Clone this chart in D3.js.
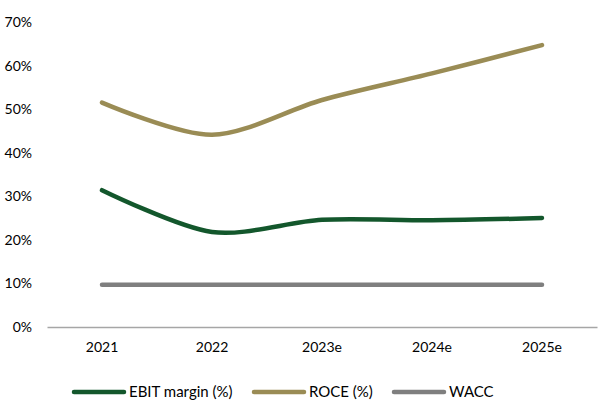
<!DOCTYPE html>
<html><head><meta charset="utf-8">
<script src="https://cdn.jsdelivr.net/npm/d3@7"></script>
<style>body{margin:0;background:#fff}svg{font-family:Lato,"Open Sans",sans-serif}</style>
</head><body><svg id="c" width="603" height="403"></svg>
<script>
const categories = ["2021","2022","2023e","2024e","2025e"];
const ebit = [31.4, 21.8, 24.6, 24.5, 25.0];
const roce = [51.5, 44.1, 52.1, 58.2, 64.7];
const wacc = [9.7, 9.7, 9.7, 9.7, 9.7];
const yTicks = [0,10,20,30,40,50,60,70];
const seriesNames = ["EBIT margin (%)","ROCE (%)","WACC"];
const colors = ["#13572c","#9a8c55","#7f7f7f"];

const svg = d3.select("#c");
const m = {l:47, r:6, t:22, b:76};
const W = 603, H = 403;
const x = d3.scaleBand().domain(categories).range([m.l, W-m.r]);
const y = d3.scaleLinear().domain([0,70]).range([H-m.b, m.t]);

svg.append("g").attr("transform",`translate(${m.l},0)`)
  .call(d3.axisLeft(y).tickValues(yTicks).tickFormat(d=>d+"%").tickSize(0).tickPadding(15))
  .call(g=>g.select(".domain").remove())
  .selectAll("text").attr("font-size",14).attr("fill","#000").attr("font-family","Lato");

svg.append("g").attr("transform",`translate(0,${y(0)})`)
  .call(d3.axisBottom(x).tickSize(0).tickPadding(15))
  .call(g=>g.select(".domain").attr("stroke","#a6a6a6").attr("stroke-width",1.3))
  .selectAll("text").attr("font-size",14).attr("fill","#000").attr("font-family","Lato");

const line = d3.line().x((d,i)=>x(categories[i])+x.bandwidth()/2).y(d=>y(d)).curve(d3.curveCardinal.tension(0.1));
const data = [ebit, roce, wacc];
[2,0,1].forEach(k=>{
  svg.append("path").datum(data[k]).attr("d",line).attr("fill","none")
    .attr("stroke",colors[k]).attr("stroke-width",4.5).attr("stroke-linecap","round");
});

const legX = [72, 252, 392];
const lg = svg.append("g");
seriesNames.forEach((n,i)=>{
  lg.append("line").attr("x1",legX[i]+2).attr("x2",legX[i]+52).attr("y1",392).attr("y2",392)
    .attr("stroke",colors[i]).attr("stroke-width",4.5).attr("stroke-linecap","round");
  lg.append("text").attr("x",legX[i]+57).attr("y",392).attr("dy","0.35em")
    .attr("font-size",15).text(n);
});
</script></body></html>
